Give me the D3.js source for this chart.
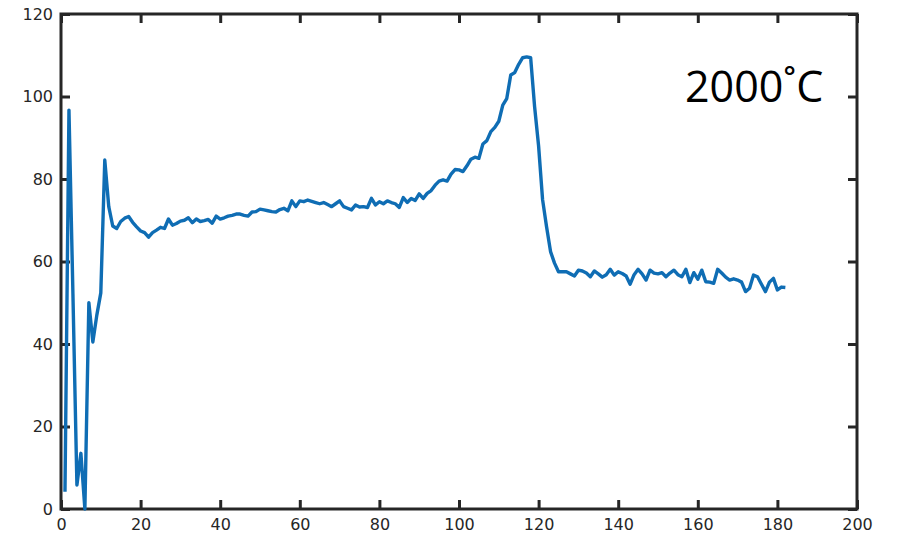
<!DOCTYPE html>
<html>
<head>
<meta charset="utf-8">
<script src="https://cdn.jsdelivr.net/npm/d3@7"></script>
<style>
  body { margin: 0; background: #fff; }
  .axis text { font-family: "DejaVu Sans", sans-serif; font-size: 16px; fill: #262626; }
</style>
</head>
<body>
<div id="chart" style="width:902px;height:535px"></div>
<script>
const xTicks = [0, 20, 40, 60, 80, 100, 120, 140, 160, 180, 200];
const yTicks = [0, 20, 40, 60, 80, 100, 120];
const label = "2000˚C";

const xs = d3.range(1, 183);
const values = [
  4.2, 96.7, 52, 5.8, 13.5, 0, 50, 40.5, 47, 52.4,
  84.6, 73.3, 68.6, 68, 69.7, 70.5, 70.9, 69.5, 68.4, 67.4,
  67, 65.9, 67, 67.6, 68.3, 68, 70.3, 68.8, 69.2, 69.8,
  70, 70.6, 69.4, 70.3, 69.7, 69.9, 70.2, 69.3, 71, 70.3,
  70.6, 71, 71.2, 71.5, 71.5, 71.2, 71, 72, 72.1, 72.7,
  72.5, 72.3, 72.1, 72, 72.6, 72.9, 72.3, 74.7, 73.3, 74.7,
  74.5, 74.9, 74.6, 74.3, 74, 74.3, 73.8, 73.3, 74, 74.7,
  73.3, 72.9, 72.5, 73.7, 73.2, 73.3, 73.1, 75.3, 73.7, 74.5,
  74, 74.7, 74.3, 74, 73.1, 75.5, 74.3, 75.3, 74.8, 76.4,
  75.3, 76.5, 77.2, 78.5, 79.5, 79.8, 79.5, 81.2, 82.3, 82.2,
  81.8, 83.2, 84.8, 85.3, 85, 88.5, 89.3, 91.5, 92.5, 94,
  97.9, 99.5, 105.2, 105.8, 107.8, 109.4, 109.6, 109.4, 97.5, 88,
  75, 68.4, 62.4, 59.6, 57.5, 57.5, 57.5, 57, 56.5, 57.9,
  57.7, 57.2, 56.3, 57.7, 57, 56.2, 56.8, 58.1, 56.7, 57.5,
  57.1, 56.5, 54.5, 56.8, 58.1, 57, 55.5, 57.9, 57.2, 57,
  57.3, 56.3, 57.2, 57.9, 56.8, 56.3, 58.1, 54.9, 57.3, 55.7,
  57.9, 55.1, 55, 54.7, 58.1, 57.2, 56.2, 55.5, 55.8, 55.5,
  55, 52.7, 53.5, 56.7, 56.3, 54.5, 52.7, 55, 55.9, 53.1,
  53.8, 53.7
];

const W = 902, H = 535;
const margin = {top: 14, right: 45, bottom: 26, left: 61};
const width = W - margin.left - margin.right;
const height = H - margin.top - margin.bottom;

const svg = d3.select("#chart").append("svg")
    .attr("width", W)
    .attr("height", H)
    .append("g")
    .attr("transform", `translate(${margin.left}, ${margin.top})`);

const x = d3.scaleLinear().domain([0, 200]).range([0, width]);
const y = d3.scaleLinear().domain([0, 120]).range([height, 0]);

const axisColor = "#262626";

// inward ticks on all four sides
svg.append("g")
    .attr("class", "axis")
    .attr("transform", `translate(0, ${height})`)
    .call(d3.axisBottom(x).tickValues(xTicks).tickSize(-9).tickPadding(10));
svg.append("g")
    .attr("class", "axis")
    .call(d3.axisTop(x).tickValues(xTicks).tickSize(-9).tickFormat(""));
svg.append("g")
    .attr("class", "axis")
    .call(d3.axisLeft(y).tickValues(yTicks).tickSize(-9).tickPadding(8));
svg.append("g")
    .attr("class", "axis")
    .attr("transform", `translate(${width}, 0)`)
    .call(d3.axisRight(y).tickValues(yTicks).tickSize(-9).tickFormat(""));

svg.selectAll(".axis .domain").remove();
svg.selectAll(".axis line").attr("stroke", axisColor).attr("stroke-width", 3);

svg.append("rect")
    .attr("width", width)
    .attr("height", height)
    .attr("fill", "none")
    .attr("stroke", axisColor)
    .attr("stroke-width", 3);

const line = d3.line()
    .x((d, i) => x(xs[i]))
    .y(d => y(d));

svg.append("path")
    .datum(values)
    .attr("fill", "none")
    .attr("stroke", "#0F6DB4")
    .attr("stroke-width", 3.4)
    .attr("stroke-linejoin", "round")
    .attr("d", line);

svg.append("text")
    .attr("x", 624)
    .attr("y", 88)
    .attr("font-family", "'Open Sans', sans-serif")
    .attr("font-size", 43)
    .attr("fill", "#000")
    .text(label);
</script>
</body>
</html>
